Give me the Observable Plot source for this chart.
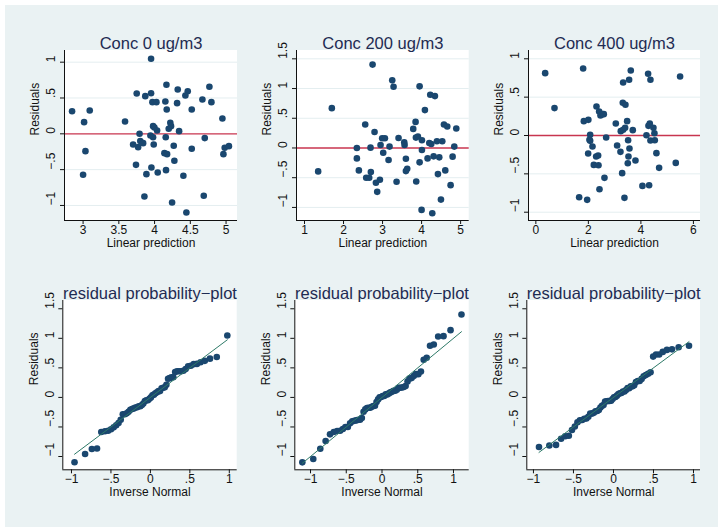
<!DOCTYPE html>
<html>
<head>
<meta charset="utf-8">
<script src="https://cdn.jsdelivr.net/npm/d3@7"></script>
<script src="https://cdn.jsdelivr.net/npm/@observablehq/plot@0.6"></script>
<style>
  html, body { margin: 0; padding: 0; background: #ffffff; }
  #root { position: relative; width: 718px; height: 527px; overflow: hidden; background: #ffffff; }
  #bg { position: absolute; left: 5px; top: 5px; width: 713px; height: 522px; background: #eaf2f3; }
  .panel { position: absolute; }
</style>
</head>
<body>
<div id="root"><div id="bg"></div></div>
<script>
// ---- Data (linear prediction, residual) ----
const conc0Pred = [2.846,3.093,3.014,3.033,3.0,3.587,3.75,3.70,3.77,3.79,3.80,3.84,3.74,3.87,3.886,3.858,3.951,3.951,3.97,4.026,3.979,3.998,4.035,3.942,3.979,3.988,3.956,4.044,4.166,4.151,4.17,4.156,4.138,4.175,4.16,4.22,4.23,4.198,4.268,4.277,4.245,4.324,4.315,4.343,4.464,4.431,4.403,4.445,4.52,4.52,4.669,4.767,4.795,4.702,4.688,4.949,4.963,4.981,5.04];
const conc0Resid = [0.316,0.326,0.163,-0.242,-0.572,0.172,0.563,-0.149,-0.186,0.0,-0.102,-0.13,-0.433,0.526,-0.563,-0.874,1.047,0.567,0.442,0.442,0.107,0.088,0.047,-0.023,-0.047,-0.149,-0.47,-0.54,0.684,0.451,0.34,-0.047,-0.27,-0.284,-0.507,0.153,0.107,0.07,-0.167,-0.377,-0.958,0.619,0.428,0.037,0.595,0.535,-0.586,-1.098,0.34,-0.209,0.479,0.656,0.442,-0.06,-0.865,0.214,-0.284,-0.195,-0.172];

const conc200Pred = [1.35,1.70,2.342,2.342,2.393,2.556,2.581,2.658,2.692,2.70,2.744,2.795,2.83,2.863,2.932,2.949,2.99,3.06,3.017,3.154,3.179,3.248,3.282,3.359,3.41,3.556,3.564,3.598,3.598,3.632,3.786,3.846,3.855,3.906,3.863,3.949,3.949,4.009,4.009,4.0,4.085,4.154,4.197,4.248,4.222,4.342,4.274,4.308,4.393,4.419,4.453,4.496,4.53,4.573,4.607,4.658,4.744,4.795,4.838,4.889];
const conc200Resid = [-0.394,0.67,0.0,-0.175,-0.377,0.394,-0.501,-0.501,0.006,-0.406,1.403,0.27,-0.586,-0.738,-0.535,0.051,0.163,0.163,-0.079,-0.203,0.023,1.138,1.031,-0.569,0.169,0.096,0.051,-0.18,-0.389,-0.349,0.321,0.439,0.175,0.192,-0.563,1.037,-0.242,0.13,-0.034,-1.042,0.637,-0.175,0.085,0.068,0.896,0.873,-1.099,-0.141,0.113,-0.439,-0.158,-0.868,0.113,0.394,-0.377,0.361,-0.625,-0.146,0.023,0.327];

const conc400Pred = [0.355,0.71,1.649,1.801,1.827,2.0,1.954,1.992,2.068,2.042,2.068,2.157,2.207,2.309,2.296,2.372,2.385,2.41,2.461,2.537,2.588,2.423,2.613,2.677,3.045,3.095,3.222,3.235,3.286,3.324,3.311,3.412,3.324,3.40,3.476,3.374,3.514,3.501,3.527,3.565,3.552,3.615,3.691,3.793,4.059,4.212,4.275,4.288,4.313,4.339,4.364,4.364,4.478,4.516,4.529,4.592,4.694,5.328,5.493];
const conc400Resid = [0.813,0.357,-0.804,0.874,0.187,0.204,-0.839,-0.235,0.009,-0.057,-0.07,-0.143,-0.383,0.378,-0.274,-0.261,-0.387,0.313,0.261,0.278,0.278,-0.7,-0.552,-0.026,0.157,-0.13,-0.213,0.057,-0.491,0.691,0.426,0.4,0.074,0.1,0.187,-0.813,-0.061,-0.361,-0.274,-0.17,0.726,0.848,0.07,-0.326,-0.657,0.004,0.804,0.126,-0.648,0.157,-0.065,0.726,0.1,0.03,-0.061,-0.23,-0.422,-0.357,0.77];

const topTitles = ["Conc 0 ug/m3", "Conc 200 ug/m3", "Conc 400 ug/m3"];
const bottomTitle = "residual probability\u2212plot";
const xTicksTop = [[3, 3.5, 4, 4.5, 5], [1, 2, 3, 4, 5], [0, 2, 4, 6]];
const yTicksTop = [[-1, -0.5, 0, 0.5, 1], [-1, -0.5, 0, 0.5, 1, 1.5], [-1, -0.5, 0, 0.5, 1]];
const xTicksBottom = [-1, -0.5, 0, 0.5, 1];
const yTicksBottom = [-1, -0.5, 0, 0.5, 1, 1.5];

// ---- Style ----
const navy = "#1a476f";
const red = "#c8354f";
const teal = "#2e7a68";
const titleColor = "#1e2b52";
const gridColor = "#e4eef0";
const font = "'Liberation Sans', Arial, sans-serif";

const fmt = d => d === 0 ? "0" : (d < 0 ? "\u2212" : "") + String(Math.abs(d)).replace(/^0\./, ".");

// inverse standard normal (Acklam)
function invNorm(p) {
  const a = [-3.969683028665376e+01, 2.209460984245205e+02, -2.759285104469687e+02, 1.383577518672690e+02, -3.066479806614716e+01, 2.506628277459239e+00];
  const b = [-5.447609879822406e+01, 1.615858368580409e+02, -1.556989798598866e+02, 6.680131188771972e+01, -1.328068155288572e+01];
  const c = [-7.784894002430293e-03, -3.223964580411365e-01, -2.400758277161838e+00, -2.549732539343734e+00, 4.374664141464968e+00, 2.938163982698783e+00];
  const d = [7.784695709041462e-03, 3.224671290700398e-01, 2.445134137142996e+00, 3.754408661907416e+00];
  const pl = 0.02425, ph = 1 - pl;
  let q, r;
  if (p < pl) { q = Math.sqrt(-2 * Math.log(p)); return (((((c[0]*q+c[1])*q+c[2])*q+c[3])*q+c[4])*q+c[5]) / ((((d[0]*q+d[1])*q+d[2])*q+d[3])*q+1); }
  if (p > ph) { q = Math.sqrt(-2 * Math.log(1 - p)); return -(((((c[0]*q+c[1])*q+c[2])*q+c[3])*q+c[4])*q+c[5]) / ((((d[0]*q+d[1])*q+d[2])*q+d[3])*q+1); }
  q = p - 0.5; r = q * q;
  return (((((a[0]*r+a[1])*r+a[2])*r+a[3])*r+a[4])*r+a[5])*q / (((((b[0]*r+b[1])*r+b[2])*r+b[3])*r+b[4])*r+1);
}

// Stata-style qnorm: sorted residuals against inverse normal with the residuals' mean and sd
function qnorm(resid) {
  const s = resid.slice().sort((a, b) => a - b);
  const n = s.length, m = d3.mean(s), sd = d3.deviation(s);
  return s.map((y, i) => ({x: m + sd * invNorm((i + 1) / (n + 1)), y}));
}

function place(svg, left, top) {
  svg.classList.add("panel");
  svg.style.left = left + "px";
  svg.style.top = top + "px";
  document.getElementById("root").appendChild(svg);
}

function plotArea(xdom, ydom) {
  return Plot.rect([0], {x1: () => xdom[0], x2: () => xdom[1], y1: () => ydom[0], y2: () => ydom[1], fill: "#ffffff", stroke: "none"});
}

function axesMarks(xdom, ydom, xticks, yticks, xlabel) {
  return [
    Plot.ruleX([xdom[0]], {stroke: "#111", strokeWidth: 1}),
    Plot.ruleY([ydom[0]], {stroke: "#111", strokeWidth: 1}),
    Plot.axisX(xticks, {tickSize: 4, tickPadding: 0.5, tickFormat: fmt, label: null, fontSize: 12, fill: "#111", stroke: "#111"}),
    Plot.axisY(yticks, {tickSize: 4, tickFormat: () => "", label: null, stroke: "#111"}),
    Plot.text(yticks, {y: d => d, text: fmt, frameAnchor: "left", dx: -13, rotate: -90, fontSize: 12, fill: "#111"}),
    Plot.text([xlabel], {frameAnchor: "bottom", dy: 26, fontSize: 12, fill: "#111"}),
    Plot.text(["Residuals"], {frameAnchor: "left", dx: -29, rotate: -90, fontSize: 12, fill: "#111"})
  ];
}

// ---- Top row: residual vs linear prediction ----
const topData = [
  {pred: conc0Pred, resid: conc0Resid, xdom: [2.74, 5.16], ydom: [-1.21, 1.163], left: 0, ml: 64, mr: 3},
  {pred: conc200Pred, resid: conc200Resid, xdom: [0.795, 5.22], ydom: [-1.22, 1.64], left: 240, ml: 56, mr: 11.3},
  {pred: conc400Pred, resid: conc400Resid, xdom: [-0.28, 6.27], ydom: [-1.108, 1.108], left: 478, ml: 50, mr: 18}
];

topData.forEach((p, i) => {
  const pts = p.pred.map((x, j) => ({x, y: p.resid[j]}));
  const svg = Plot.plot({
    width: 240, height: 260,
    marginLeft: p.ml, marginRight: p.mr, marginTop: 50, marginBottom: 40,
    x: {domain: p.xdom, axis: null},
    y: {domain: p.ydom, axis: null},
    style: {background: "transparent", fontFamily: font, fontSize: "12px", overflow: "visible"},
    marks: [
      plotArea(p.xdom, p.ydom),
      Plot.ruleY(yTicksTop[i].filter(d => d !== 0), {stroke: gridColor, strokeWidth: 1}),
      Plot.ruleY([0], {stroke: red, strokeWidth: 1.3}),
      Plot.dot(pts, {x: "x", y: "y", r: 3.3, fill: navy, stroke: null}),
      ...axesMarks(p.xdom, p.ydom, xTicksTop[i], yTicksTop[i], "Linear prediction"),
      Plot.text([topTitles[i]], {frameAnchor: "top", dy: -13.5, fontSize: 16.5, fill: titleColor})
    ]
  });
  place(svg, p.left, 0);
});

// ---- Bottom row: normal probability plots ----
const bottomData = [
  {resid: conc0Resid, xdom: [-1.11, 1.1], left: 0, ml: 62.3, mr: 3.3},
  {resid: conc200Resid, xdom: [-1.22, 1.22], left: 240, ml: 54.3, mr: 11.3},
  {resid: conc400Resid, xdom: [-1.083, 1.0875], left: 478, ml: 48.3, mr: 18}
];
const ydomB = [-1.225, 1.64];

bottomData.forEach((p, i) => {
  const pts = qnorm(p.resid);
  const ext = d3.extent(pts, d => d.x);
  const ref = ext.map(v => ({x: v, y: v}));
  const svg = Plot.plot({
    width: 240, height: 267,
    marginLeft: p.ml, marginRight: p.mr, marginTop: 40, marginBottom: 57.7,
    x: {domain: p.xdom, axis: null},
    y: {domain: ydomB, axis: null},
    style: {background: "transparent", fontFamily: font, fontSize: "12px", overflow: "visible"},
    marks: [
      plotArea(p.xdom, ydomB),
      Plot.dot(pts, {x: "x", y: "y", r: 3.3, fill: navy, stroke: null}),
      Plot.line(ref, {x: "x", y: "y", stroke: teal, strokeWidth: 1}),
      ...axesMarks(p.xdom, ydomB, xTicksBottom, yTicksBottom, "Inverse Normal"),
      Plot.text([bottomTitle], {frameAnchor: "top", dy: -13.5, fontSize: 16.5, fill: titleColor})
    ]
  });
  place(svg, p.left, 260);
});
</script>
</body>
</html>
